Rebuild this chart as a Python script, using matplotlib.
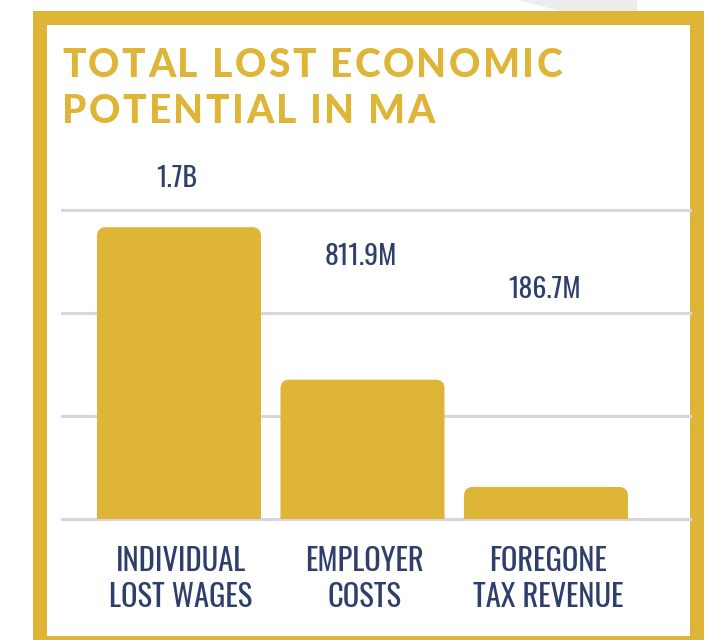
import numpy as np
import matplotlib.pyplot as plt
from matplotlib.patches import FancyBboxPatch, Rectangle, Polygon

# =========================
# DATA
# =========================
categories = ["INDIVIDUAL\nLOST WAGES", "EMPLOYER\nCOSTS", "FOREGONE\nTAX REVENUE"]
values = [1700.0, 811.9, 186.7]          # miljoner USD
value_labels = ["1.7B", "811.9M", "186.7M"]
grid_ticks = [0, 600, 1200, 1800]
title_lines = ["TOTAL LOST ECONOMIC", "POTENTIAL IN MA"]

# var etiketterna sitter (i dataenheter), de följer inte stapeltopparna
label_heights = [1985, 1530, 1335]

GOLD = "#DFB537"
NAVY = "#2E3F6B"
GRID = "#D6D6DE"
W, H = 708, 640

fig = plt.figure(figsize=(W / 100, H / 100), dpi=100)
fig.patch.set_facecolor("white")


def fx(px):
    return px / W


def fy(py):
    return 1 - py / H


# skugga uppe till höger + ram
fig.patches.append(Polygon([(fx(518), fy(0)), (fx(637), fy(0)), (fx(637), fy(11)), (fx(560), fy(11))],
                           closed=True, transform=fig.transFigure, facecolor="#EDEDED",
                           edgecolor="none", zorder=0))
fig.patches.append(Rectangle((fx(40), fy(643)), fx(697) - fx(40), fy(17.5) - fy(643),
                             transform=fig.transFigure, facecolor="white", edgecolor=GOLD,
                             linewidth=14 * 0.72, zorder=1))

# =========================
# AXES
# =========================
ax_left, ax_right, ax_bottom, ax_top = 62, 690, 519, 140
ax = fig.add_axes([fx(ax_left), fy(ax_bottom), fx(ax_right) - fx(ax_left), fy(ax_top) - fy(ax_bottom)])
ax.set_zorder(2)
ax.patch.set_alpha(0)

ylim_top = 2208
ax.set_ylim(0, ylim_top)
ax.set_xlim(-0.6376, 2.785)
for s in ax.spines.values():
    s.set_visible(False)
ax.set_xticks([])
ax.set_yticks([])

for g in grid_ticks:
    ax.axhline(g, color=GRID, linewidth=2.2, zorder=1, clip_on=False)

x = np.arange(len(values))
bar_w = 0.894
px_per_x = (ax_right - ax_left) / (2.785 + 0.6376)
px_per_y = (ax_bottom - ax_top) / ylim_top
radius_px = 9
for xi, v in zip(x, values):
    r = radius_px / px_per_x
    bar = FancyBboxPatch((xi - bar_w / 2, -200), bar_w, v + 200,
                         boxstyle=f"round,pad=0,rounding_size={r}",
                         mutation_aspect=px_per_x / px_per_y,
                         facecolor=GOLD, edgecolor="none", zorder=2)
    bar.set_clip_on(True)
    ax.add_patch(bar)

lab_kw = dict(color=NAVY, family=["Oswald", "Archivo Narrow", "DejaVu Sans"], fontweight=400)
for xi, lab, ly in zip(x, value_labels, label_heights):
    ax.text(xi - 0.01, ly, lab, ha="center", va="center", fontsize=20, **lab_kw)

for xi, cat in zip(x, categories):
    ax.text(xi + 0.01, -0.16, cat, ha="center", va="center", fontsize=22,
            linespacing=1.22, transform=ax.get_xaxis_transform(), **lab_kw)

# =========================
# TITEL med spärrning
# =========================
renderer = fig.canvas.get_renderer()
title_kw = dict(fontsize=28, fontweight=900, color=GOLD, family=["Lato", "DejaVu Sans"])


def text_width(s):
    t = fig.text(0, 0, s + "|", **title_kw)
    w1 = t.get_window_extent(renderer).width
    t.remove()
    t = fig.text(0, 0, "|", **title_kw)
    w2 = t.get_window_extent(renderer).width
    t.remove()
    return w1 - w2


title_x0 = 62
target_w = 562 - 62
natural = text_width(title_lines[0])
track = (target_w - natural) / (len(title_lines[0]) - 1)

for line, base_py in zip(title_lines, [77, 123]):
    for i, ch in enumerate(line):
        if ch == " ":
            continue
        px = title_x0 + text_width(line[:i]) + i * track
        fig.text(fx(px), fy(base_py), ch, ha="left", va="baseline", **title_kw)

fig.savefig("out.png", dpi=100)
